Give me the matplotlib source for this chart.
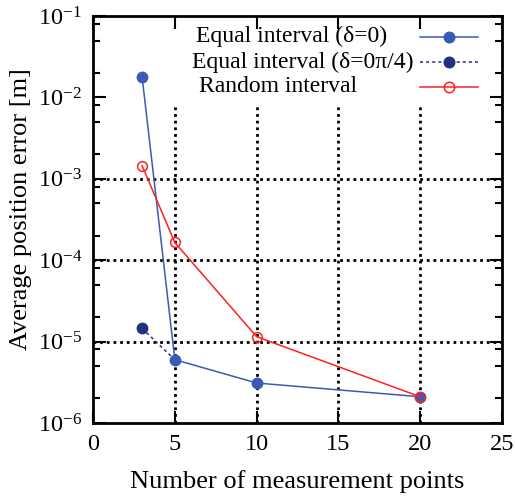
import matplotlib
matplotlib.use("Agg")
import matplotlib.pyplot as plt
from matplotlib.lines import Line2D
from matplotlib.ticker import LogLocator, FixedLocator, NullFormatter

plt.rcParams['font.family'] = ['Liberation Serif', 'DejaVu Serif']
plt.rcParams['mathtext.fontset'] = 'custom'
plt.rcParams['mathtext.rm'] = 'Liberation Serif'
plt.rcParams['mathtext.it'] = 'Liberation Serif:italic'

# Data
eq_x = [3, 5, 10, 20]
eq_y = [1.8e-2, 6.0e-6, 3.1e-6, 2.1e-6]
eq45_x = [3, 5]
eq45_y = [1.45e-5, 6.0e-6]
rnd_x = [3, 5, 10, 20]
rnd_y = [1.45e-3, 1.65e-4, 1.15e-5, 2.1e-6]

blue = "#3a5bb5"
navy = "#23307f"
red = "#ff2020"

fig = plt.figure(figsize=(5.15, 4.97), dpi=100)
ax = fig.add_axes([0.1806, 0.1489, 0.7942, 0.8189])
ax.set_xlim(0, 25)
ax.set_yscale('log')
ax.set_ylim(1e-6, 1e-1)

# Grid (hidden behind the key at the top)
dots = (0, (1, 1.4))
for gx in [5, 10, 15, 20]:
    ax.plot([gx, gx], [1e-6, 8.5e-3], color='black', lw=2, ls=dots, zorder=1)
for gy in [1e-5, 1e-4, 1e-3]:
    ax.plot([0, 25], [gy, gy], color='black', lw=2, ls=dots, zorder=1)

ax.plot(eq_x, eq_y, color=blue, lw=1.1, marker='o', ms=7.5,
        mfc=blue, mec=blue, zorder=4)
ax.plot(eq45_x, eq45_y, color=navy, lw=1.1, ls=(0, (2, 2)), marker='o', ms=7.5,
        mfc=navy, mec=navy, zorder=3, markevery=[0])
ax.plot(rnd_x, rnd_y, color=red, lw=1.1, marker='o', ms=7,
        mfc='none', mec=red, mew=1.1, zorder=5)

# Key: left-aligned text, sample on the right (gnuplot style)
key = [
    ('Equal interval (δ=0)', 0.252, dict(color=blue, ls='-', mfc=blue, mec=blue)),
    ('Equal interval (δ=0π/4)', 0.242, dict(color=navy, ls=(0, (2, 2)), mfc=navy, mec=navy)),
    ('Random interval', 0.26, dict(color=red, ls='-', mfc='none', mec=red)),
]
rows = [0.949, 0.887, 0.826]
for (label, kx, st), ky in zip(key, rows):
    ax.text(kx, ky, label, transform=ax.transAxes, fontsize=17,
            ha='left', va='center')
    ax.add_line(Line2D([0.80, 0.941], [ky, ky], transform=ax.transAxes,
                       color=st['color'], ls=st['ls'], lw=1.1))
    ax.add_line(Line2D([0.870], [ky], transform=ax.transAxes, marker='o',
                       ms=7.5, mfc=st['mfc'], mec=st['mec'], mew=1.1, ls='none'))

ax.xaxis.set_major_locator(FixedLocator([0, 5, 10, 15, 20, 25]))
ax.yaxis.set_major_locator(LogLocator(base=10, numticks=10))
ax.yaxis.set_minor_locator(LogLocator(base=10, subs=(2, 5, 8), numticks=10))
ax.yaxis.set_minor_formatter(NullFormatter())
ax.tick_params(which='both', direction='in', top=True, right=True,
               labelsize=17.5, width=1.5)
ax.tick_params(which='major', length=9, pad=8)
ax.tick_params(which='minor', length=5)
for s in ax.spines.values():
    s.set_linewidth(2)

fig.text(0.578, 0.018, 'Number of measurement points', fontsize=19,
         ha='center', va='baseline')
fig.text(0.041, 0.58, 'Average position error [m]', fontsize=19,
         ha='center', va='center', rotation=90)

fig.savefig('out.png', dpi=100)
